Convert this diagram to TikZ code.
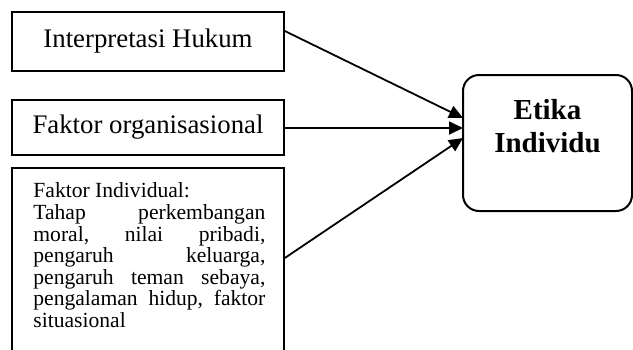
\documentclass[tikz,border=0pt]{standalone}
\usepackage{fontspec}
\setmainfont{Liberation Serif}
\usetikzlibrary{arrows.meta}

\tikzset{
  factorbox/.style={draw, thick, rectangle, minimum width=136pt, inner sep=0pt},
  etikabox/.style={draw, line width=1pt, rectangle, rounded corners=8pt,
    minimum width=84.5pt, minimum height=68pt, inner sep=0pt},
  influence/.style={line width=0.9pt, -{Triangle[length=7pt, width=6.5pt]}}
}
\newcommand{\spreadline}[1]{\hbox to 116pt{#1}}

\begin{document}
\begin{tikzpicture}[x=0.5pt, y=-0.5pt]

  % Fix the page size
  \useasboundingbox (0,0) rectangle (633,349);
  \clip (0,0) rectangle (633,349);

  % Define the anchor points of the boxes
  \coordinate (H) at (148,41.5);
  \coordinate (F) at (148,127.5);
  \coordinate (E) at (547.5,143);

  % Draw the two upper factor boxes
  \node[factorbox, minimum height=29.5pt, font=\fontsize{13.4}{15}\selectfont] (hukum) at (H) {Interpretasi Hukum};
  \node[factorbox, minimum height=27.5pt, font=\fontsize{13.4}{15}\selectfont] (organisasi) at (F) {Faktor organisasional};

  % Draw the individual factor box (cut off at the bottom)
  \node[factorbox, anchor=north, minimum height=100pt] (individu) at (148,167) {};
  \node[anchor=north west, inner sep=0pt, align=left,
        font=\fontsize{10.8}{10.8}\selectfont] (individutext) at (33,181.5)
  {\rule{0pt}{8pt}Faktor Individual:\\
   \spreadline{Tahap\hfill perkembangan}\\
   \spreadline{moral,\hfill nilai\hfill pribadi,}\\
   \spreadline{pengaruh\hfill keluarga,}\\
   \spreadline{pengaruh\hfill teman\hfill sebaya,}\\
   \spreadline{pengalaman\hfill hidup,\hfill faktor}\\
   situasional};

  % Draw the target box
  \node[etikabox] (etika) at (E) {};
  \node[font=\bfseries\fontsize{14.5}{16.5}\selectfont, align=center, anchor=north]
    (etikatext) at (547.5,92) {Etika\\Individu};

  % Define the arrow tips on the target box
  \coordinate (T1) at (463,118);
  \coordinate (T2) at (463,128);
  \coordinate (T3) at (463,138);

  % Draw the arrows
  \draw[influence] (hukum.east |- 0,31) -- (T1);
  \draw[influence] (organisasi.east |- 0,128) -- (T2);
  \draw[influence] (individu.east |- 0,258) -- (T3);

\end{tikzpicture}
\end{document}
